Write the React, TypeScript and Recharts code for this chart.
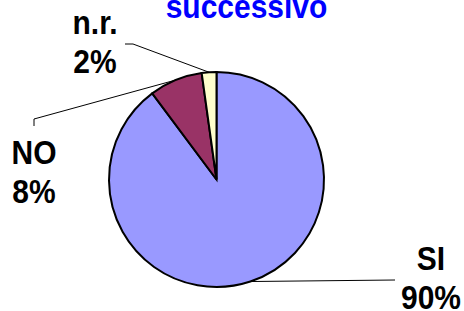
import React from 'react';
import { PieChart, Pie, Cell } from 'recharts';

const categories = ['SI', 'NO', 'n.r.'];
const values = [89.8, 8.0, 2.2];
const colors = ['#9999FF', '#993366', '#FFFFCC'];
const title = 'successivo';

const data = categories.map((name, i) => ({ name, value: values[i] }));

// hand-placed label boxes (text centre x, first baseline y) and leader elbows
const labelLayout: Record<string, { x: number; y: number; elbow: [number, number][] }> = {
    SI: { x: 431, y: 270, elbow: [[395, 280]] },
    NO: { x: 34, y: 164, elbow: [[34, 126], [34, 119]] },
    'n.r.': { x: 95, y: 34, elbow: [[125, 44], [133, 44]] },
};

const RAD = Math.PI / 180;
const FONT = '"Liberation Sans", Arial, sans-serif';

function renderLabel(props: any) {
    const { cx, cy, midAngle, outerRadius, percent, name } = props;
    const lay = labelLayout[name];
    if (!lay) return null;
    const ex = cx + outerRadius * Math.cos(-midAngle * RAD);
    const ey = cy + outerRadius * Math.sin(-midAngle * RAD);
    const pts = [...lay.elbow, [ex, ey]].map((p) => p.join(',')).join(' ');
    const pct = `${Math.round(percent * 100)}%`;
    return (
        <g>
            <polyline points={pts} fill="none" stroke="#000" strokeWidth={1} />
            <g transform={`translate(${lay.x},${lay.y}) scale(1,1.12)`}>
                <text x={0} y={0} textAnchor="middle" fontFamily={FONT} fontWeight="bold" fontSize={30} fill="#000">
                    {name}
                </text>
                <text x={0} y={35} textAnchor="middle" fontFamily={FONT} fontWeight="bold" fontSize={30} fill="#000">
                    {pct}
                </text>
            </g>
        </g>
    );
}

export default function App() {
    return (
        <div style={{ position: 'absolute', left: 0, top: 0, width: 464, height: 311, background: '#fff' }}>
            <svg width={464} height={311} style={{ position: 'absolute', left: 0, top: 0 }}>
                <g transform="translate(246.5,18) scale(1,1.12)">
                    <text x={0} y={0} textAnchor="middle" fontFamily={FONT} fontWeight="bold" fontSize={30} fill="#0000FF">
                        {title}
                    </text>
                </g>
            </svg>
            <div style={{ position: 'absolute', left: 0, top: 0 }}>
                <PieChart width={464} height={311} margin={{ top: 0, right: 0, bottom: 0, left: 0 }}>
                    <Pie
                        data={data}
                        dataKey="value"
                        nameKey="name"
                        cx={216.5}
                        cy={179.5}
                        outerRadius={107.5}
                        startAngle={90}
                        endAngle={-270}
                        stroke="#000"
                        strokeWidth={2}
                        label={renderLabel}
                        labelLine={false}
                        isAnimationActive={false}
                    >
                        {data.map((d, i) => (
                            <Cell key={d.name} fill={colors[i]} />
                        ))}
                    </Pie>
                </PieChart>
            </div>
        </div>
    );
}
